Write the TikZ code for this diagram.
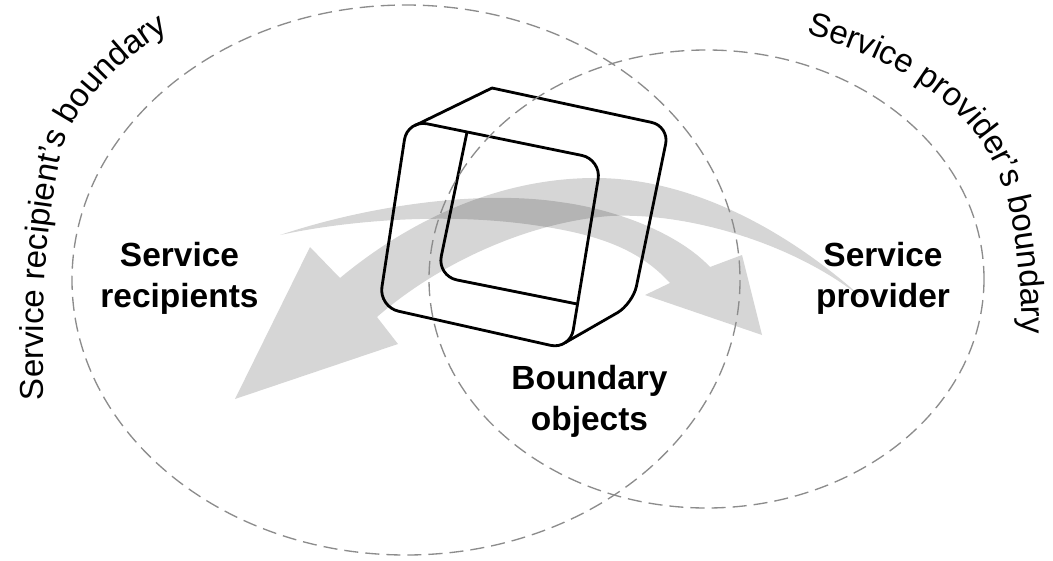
\documentclass[tikz,border=0pt]{standalone}
\usepackage{fontspec}
\setmainfont{Liberation Sans}
\usetikzlibrary{calc, decorations.text}
\newcommand\curvefont{\fontsize{23.5pt}{28pt}\selectfont}

\begin{document}
\begin{tikzpicture}[x=0.025cm, y=-0.025cm,
	bound/.style={draw=black!45, line width=0.95pt, dash pattern=on 10pt off 5pt},
	flow/.style={fill=black, fill opacity=0.16},
	edge/.style={line width=2pt, line join=round, line cap=round},
	label/.style={font=\bfseries\fontsize{23.8pt}{29pt}\selectfont, align=center, anchor=base, inner sep=0pt}]
			\useasboundingbox (0,0) rectangle (1053,560);
			
			\fill[flow] (868,303) .. controls (800,240) and (700,178) .. (595,178) .. controls (490,178) and (400,228) .. (340,278) -- (310,247) -- (235,399) -- (398,344) -- (377,317) .. controls (440,262) and (530,222) .. (610,216) .. controls (690,212) and (800,245) .. (868,303) -- cycle;
			\fill[flow] (280,235) .. controls (370,205) and (480,190) .. (560,202) .. controls (620,210) and (680,235) .. (710,267) -- (742,255) -- (762,335) -- (645,295) -- (670,283) .. controls (640,250) and (600,235) .. (540,226) .. controls (450,212) and (350,220) .. (280,235) -- cycle;
			
			\coordinate (fTL) at (407.5,119.8);
			\coordinate (fTR) at (601.4,159.4);
			\coordinate (fBR) at (570,349.7);
			\coordinate (fBL) at (378.9,306.8);
			\coordinate (bTL) at (476.8,84.8);
			\coordinate (bTR) at (669.3,126.2);
			\coordinate (bBR) at (630.6,314.7);
			\coordinate (bBL) at (437.2,276);
			\coordinate (topK) at (492,88);
			\coordinate (botK) at (632.8,303.9);
			\coordinate (fTLt) at (415,125.5);
			\coordinate (fBRt) at (565.3,342.6);
			
			\begin{scope}
				\clip (fTL) -- (fTR) -- (fBR) -- (fBL) -- cycle;
				\draw[edge, rounded corners=0.5cm] ($(bTL)!0.5!(bBL)$) -- (bBL) -- (bBR) -- (bTR) -- (bTL) -- cycle;
			\end{scope}
			\draw[edge, rounded corners=0.5cm] ($(fTL)!0.5!(fBL)$) -- (fTL) -- (fTR) -- (fBR) -- (fBL) -- cycle;
			\draw[edge] (fTLt) -- (topK);
			\draw[edge, rounded corners=0.45cm] (topK) -- (bTR) -- (botK) -- (fBRt);
			
			\draw[bound] (406,280) ellipse [x radius=334, y radius=275];
			\draw[bound] (706.5,279) ellipse [x radius=277.5, y radius=229];
			
			\node[label] (recip) at (179.5,307) {Service\\recipients};
			\node[label] (prov) at (883,307) {Service\\provider};
			\node[label] (bobj) at (589.5,430) {Boundary\\objects};
			
			\path[decorate, decoration={text along path, text={|\curvefont|Service recipient's boundary}}]
				(44,400) .. controls (42,300) and (44,230) .. (62,150) .. controls (78,100) and (125,55) .. (170,30) -- (260,-10);
			\path[decorate, decoration={text along path, text={|\curvefont|Service provider’s boundary}}]
				(806,34) .. controls (900,60) and (990,110) .. (1010,210) .. controls (1018,250) and (1022,290) .. (1022,330) -- (1022,420);
			
\end{tikzpicture}
\end{document}
